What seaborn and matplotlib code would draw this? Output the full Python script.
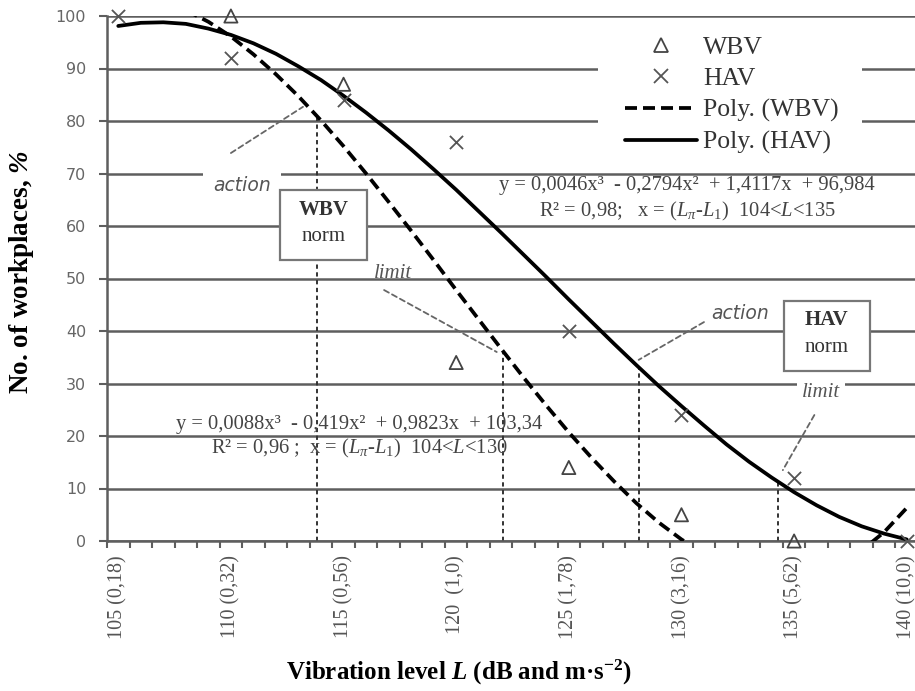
import matplotlib
matplotlib.use("Agg")
import matplotlib.pyplot as plt
import seaborn as sns
import numpy as np
import pandas as pd
from matplotlib.lines import Line2D
from matplotlib.patches import Rectangle

# ---------------- data ----------------
wbv_L = [110, 115, 120, 125, 130, 135]
wbv_pct = [100, 87, 34, 14, 5, 0]

hav_L = [105, 110, 115, 120, 125, 130, 135, 140]
hav_pct = [100, 92, 84, 76, 40, 24, 12, 0]

# polynomial trend curves (L = 105..140)
trend_L = [105, 106, 107, 108, 109, 110, 111, 112, 113, 114, 115, 116,
           117, 118, 119, 120, 121, 122, 123, 124, 125, 126, 127, 128,
           129, 130, 131, 132, 133, 134, 135, 136, 137, 138, 139, 140]
wbv_trend = [103.9, 103.7, 102.8, 101.1, 98.9, 96.1, 92.7, 88.9, 84.7, 80.1,
             75.2, 70.0, 64.6, 59.1, 53.5, 47.8, 42.2, 36.6, 31.1, 25.8,
             20.7, 15.9, 11.4, 7.2, 3.5, 0.3, -2.4, -4.5, -5.9, -6.7,
             -6.7, -5.9, -4.3, -1.8, 1.7, 6.3]
hav_trend = [98.1, 98.7, 98.8, 98.5, 97.6, 96.4, 94.8, 92.8, 90.4, 87.8,
             84.8, 81.6, 78.2, 74.6, 70.8, 66.9, 62.8, 58.7, 54.5, 50.3,
             46.0, 41.8, 37.6, 33.5, 29.5, 25.7, 22.0, 18.4, 15.1, 12.1,
             9.3, 6.8, 4.6, 2.8, 1.4, 0.3]

tick_L = [105, 110, 115, 120, 125, 130, 135, 140]
tick_labels = ["105 (0,18)", "110 (0,32)", "115 (0,56)", "120  (1,0)",
               "125 (1,78)", "130 (3,16)", "135 (5,62)", "140 (10,0)"]
y_ticks = [0, 10, 20, 30, 40, 50, 60, 70, 80, 90, 100]

# norm (action / limit) levels and where they meet the curves
norm_L = [113.8, 122.1, 128.1, 134.3]
norm_top = [81, 36, 33, 11]

legend_labels = ["WBV", "HAV", "Poly. (WBV)", "Poly. (HAV)"]

# ---------------- style ----------------
sns.set_theme(style="white")
plt.rcParams["font.family"] = ["Liberation Serif", "DejaVu Sans"]
plt.rcParams["mathtext.fontset"] = "custom"
plt.rcParams["mathtext.rm"] = "Liberation Serif"
plt.rcParams["mathtext.it"] = "Liberation Serif:italic"
plt.rcParams["mathtext.bf"] = "Liberation Serif:bold"
plt.rcParams["mathtext.bfit"] = "Liberation Serif:bold:italic"

GRID = "#5e5e5e"
fig = plt.figure(figsize=(9.15, 6.91), dpi=100)
ax = fig.add_axes([107 / 915, 150 / 691, 811 / 915, 525 / 691])
ax.set_xlim(104.5, 140.5)
ax.set_ylim(0, 100)
ax.set_axisbelow(True)

# gridlines / spines
ax.yaxis.grid(True, color=GRID, lw=1.8)
ax.xaxis.grid(False)
for s in ["top", "right"]:
    ax.spines[s].set_visible(False)
ax.spines["left"].set_color(GRID)
ax.spines["left"].set_linewidth(1.8)
ax.spines["bottom"].set_color(GRID)
ax.spines["bottom"].set_linewidth(1.8)

# white patch behind legend (breaks gridlines like the original)
ax.add_patch(Rectangle((598 / 915, (691 - 160) / 691), (862 - 598) / 915,
                       (160 - 24) / 691, transform=fig.transFigure,
                       facecolor="white", edgecolor="none", zorder=1))

# vertical norm lines
for xl, yt in zip(norm_L, norm_top):
    ax.plot([xl, xl], [0, yt], color="#333333", lw=1.4,
            ls=(0, (2.2, 1.8)), zorder=2)

# trend curves
sns.lineplot(x=trend_L, y=wbv_trend, ax=ax, color="black", lw=2.7,
             linestyle=(0, (3.2, 1.6)), zorder=3)
sns.lineplot(x=trend_L, y=hav_trend, ax=ax, color="black", lw=2.7, zorder=3)

# markers
sns.scatterplot(x=wbv_L, y=wbv_pct, ax=ax, marker="^", s=90,
                facecolor="none", edgecolor="#444444", linewidth=1.3,
                zorder=4, clip_on=False)
sns.scatterplot(x=hav_L, y=hav_pct, ax=ax, marker="x", s=90,
                color="#555555", linewidth=1.3, zorder=4, clip_on=False)

# ticks
ax.set_xticks(tick_L)
ax.set_xticklabels(tick_labels, rotation=90, fontsize=14.5,
                   family=["Liberation Serif"], color="#555555")
ax.set_xticks(np.arange(104.5, 141, 1), minor=True)
ax.tick_params(axis="x", which="major", length=0, pad=10)
ax.tick_params(axis="x", which="minor", length=5, width=1.5,
               color=GRID, direction="out", bottom=True)
ax.set_yticks(y_ticks)
ax.set_yticklabels([str(v) for v in y_ticks], fontsize=11.5,
                   family=["DejaVu Sans"], color="#666666")
ax.tick_params(axis="y", length=6, width=1.5, color=GRID,
               direction="out", left=True, pad=9)

# axis labels
fig.text(22 / 915, (691 - 272) / 691, r"No. of workplaces, $\mathbfit{\%}$",
         rotation=90, ha="center", va="center", fontsize=19.5,
         fontweight="bold", color="black")
fig.text(459 / 915, (691 - 672) / 691,
         r"Vibration level $\mathbfit{L}$ (dB and m·s$^{\mathbf{-2}}$)",
         ha="center", va="center", fontsize=18, fontweight="bold",
         color="black")

# legend
handles = [
    Line2D([], [], marker="^", ls="none", mfc="none", mec="#444444",
           ms=10, mew=1.3),
    Line2D([], [], marker="x", ls="none", color="#555555", ms=10, mew=1.3),
    Line2D([], [], color="black", lw=2.7, ls=(0, (3.2, 1.6))),
    Line2D([], [], color="black", lw=2.7),
]
ax.legend(handles, legend_labels, loc="upper left",
          bbox_to_anchor=(625 / 915, (691 - 36) / 691),
          bbox_transform=fig.transFigure, frameon=False, borderpad=0,
          borderaxespad=0, handlelength=2.8, handletextpad=0.23,
          labelspacing=0.33, prop={"family": "Liberation Serif", "size": 18.5},
          labelcolor="#333333")

# annotation texts
ax.text(110.5, 67.8, "action", ha="center", va="center", fontsize=13.5,
        style="italic", family=["DejaVu Sans"], color="#555555", zorder=5,
        bbox=dict(boxstyle="square,pad=0.55", fc="white", ec="none"))
ax.text(117.2, 51.0, "limit", ha="center", va="center", fontsize=15,
        style="italic", color="#555555", zorder=5)
ax.text(132.6, 43.4, "action", ha="center", va="center", fontsize=13.5,
        style="italic", family=["DejaVu Sans"], color="#555555", zorder=5)
ax.text(136.2, 28.2, "limit", ha="center", va="center", fontsize=15,
        style="italic", color="#555555", zorder=5,
        bbox=dict(boxstyle="square,pad=0.25", fc="white", ec="none"))

# leader lines
leaders = [((110.0, 73.9), (113.2, 82.7)),
           ((116.8, 47.8), (121.8, 36.0)),
           ((131.0, 41.7), (128.1, 34.5)),
           ((135.9, 24.0), (134.5, 13.5))]
for p0, p1 in leaders:
    ax.annotate("", xy=p1, xytext=p0,
                arrowprops=dict(arrowstyle="-", ls=(0, (3, 2)),
                                color="#666666", lw=1.3,
                                shrinkA=0, shrinkB=0), zorder=5)

# norm boxes
for (cx, cy, name, dy1, dy2) in [(114.12, 60.2, "WBV", 10.5, -8.5),
                                 (136.46, 39.05, "HAV", 11.5, -8.5)]:
    w = 87 / 22.54
    h = 70 / 5.25
    ax.add_patch(Rectangle((cx - w / 2, cy - h / 2), w, h, facecolor="white",
                           edgecolor="#777777", lw=1.6, zorder=6))
    ax.annotate(name, xy=(cx, cy), xytext=(0, dy1), textcoords="offset points",
                ha="center", va="center", fontsize=15, fontweight="bold",
                color="#333333", zorder=7)
    ax.annotate("norm", xy=(cx, cy), xytext=(0, dy2),
                textcoords="offset points", ha="center", va="center",
                fontsize=15, color="#333333", zorder=7)

# trend equations
EQ = "#444444"
ax.text(130.24, 67.8, "y = 0,0046x³  - 0,2794x²  + 1,4117x  + 96,984",
        ha="center", va="center", fontsize=14.8, color=EQ, zorder=5)
ax.text(130.24, 62.7,
        r"R² = 0,98;   x = ($L_{\pi}$-$L_1$)  104<$L$<135",
        ha="center", va="center", fontsize=14.8, color=EQ, zorder=5)
ax.text(115.7, 22.1, "y = 0,0088x³  - 0,419x²  + 0,9823x  + 103,34",
        ha="center", va="center", fontsize=14.8, color=EQ, zorder=5)
ax.text(115.7, 17.7,
        r"R² = 0,96 ;  x = ($L_{\pi}$-$L_1$)  104<$L$<130",
        ha="center", va="center", fontsize=14.8, color=EQ, zorder=5)

ax.set_xlabel("")
ax.set_ylabel("")
fig.savefig("out.png", dpi=100)
